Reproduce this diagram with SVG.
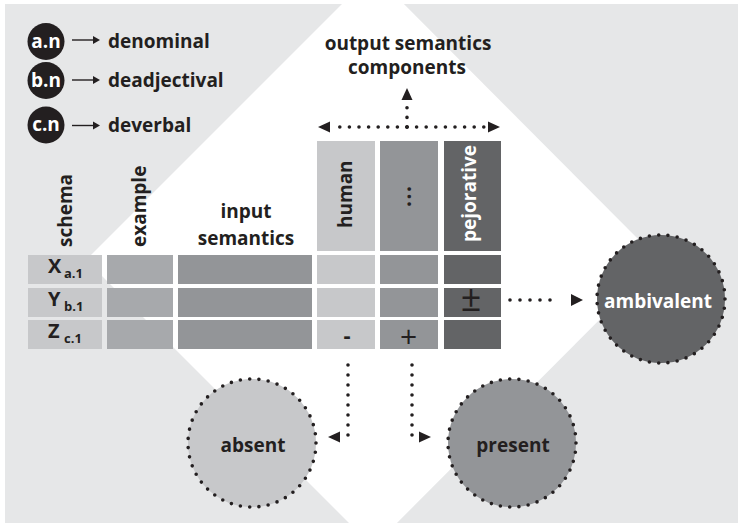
<svg xmlns="http://www.w3.org/2000/svg" width="738" height="526" viewBox="0 0 738 526">
  <defs>
    <style>
      text { font-family: "Open Sans", "Liberation Sans", sans-serif; font-weight: 700; fill: #231f20; font-size: 19px; }
      .mid { text-anchor: middle; }
      .w { fill: #ffffff; }
      .thin { font-weight: 400; }
      .sub { font-size: 13px; }
      .big { font-size: 20px; }
      .g1 { fill: #c7c8ca; }
      .g2 { fill: #a7a9ac; }
      .g3 { fill: #939598; }
      .g4 { fill: #636466; }
      .ink { fill: #231f20; }
      .dots { fill: none; stroke: #231f20; stroke-width: 3.6; stroke-linecap: round; stroke-dasharray: 0 9.6; }
      .ring { stroke: #231f20; stroke-width: 3.6; stroke-linecap: round; stroke-dasharray: 0 1; }
      .leg { fill: none; stroke: #231f20; stroke-width: 1.4; }
    </style>
  </defs>

  <!-- backdrop: grey panel with a white diamond -->
  <rect x="5" y="4" width="733" height="519" fill="#e6e7e8"/>
  <polygon points="373,-27 659,260 373,547 86,260" fill="#ffffff"/>

  <!-- legend -->
  <g id="legend-an">
    <circle cx="46" cy="41.5" r="18.5" class="ink"/>
    <text x="46" y="47.5" class="mid w">a.n</text>
    <path d="M72,40 H94" class="leg"/>
    <polygon points="100,40 93,36 93,44" class="ink"/>
    <text x="108" y="47.5">denominal</text>
  </g>
  <g id="legend-bn">
    <circle cx="46" cy="80.5" r="18.5" class="ink"/>
    <text x="46" y="86.5" class="mid w">b.n</text>
    <path d="M72,80 H94" class="leg"/>
    <polygon points="100,80 93,76 93,84" class="ink"/>
    <text x="108" y="87">deadjectival</text>
  </g>
  <g id="legend-cn">
    <circle cx="46" cy="125" r="18.5" class="ink"/>
    <text x="46" y="131" class="mid w">c.n</text>
    <path d="M72,125.5 H94" class="leg"/>
    <polygon points="100,125.5 93,121.5 93,129.5" class="ink"/>
    <text x="108" y="131.5">deverbal</text>
  </g>

  <!-- heading of the output columns -->
  <g id="output-title">
    <text x="408" y="50" class="mid">output semantics</text>
    <text x="407" y="74" class="mid">components</text>
  </g>

  <!-- column headers -->
  <g id="col-schema">
    <text transform="translate(72,247) rotate(-90)">schema</text>
  </g>
  <g id="col-example">
    <text transform="translate(146,247) rotate(-90)">example</text>
  </g>
  <g id="col-input">
    <text x="246" y="218" class="mid">input</text>
    <text x="246" y="245" class="mid">semantics</text>
  </g>
  <g id="col-human">
    <rect x="317" y="141" width="58" height="110" class="g1"/>
    <text transform="translate(352,228) rotate(-90)">human</text>
  </g>
  <g id="col-more">
    <rect x="380" y="141" width="58" height="110" class="g3"/>
    <text transform="translate(411,207) rotate(-90)" style="font-size:21px;letter-spacing:1.5px">...</text>
  </g>
  <g id="col-pejorative">
    <rect x="444" y="141" width="57" height="110" class="g4"/>
    <text transform="translate(476,242) rotate(-90)" class="w">pejorative</text>
  </g>

  <!-- rows -->
  <g id="row-x">
    <rect x="28" y="255" width="74" height="29" class="g1"/>
    <rect x="107" y="255" width="66" height="29" class="g2"/>
    <rect x="178" y="255" width="134" height="29" class="g3"/>
    <rect x="317" y="255" width="58" height="29" class="g1"/>
    <rect x="380" y="255" width="58" height="29" class="g3"/>
    <rect x="444" y="255" width="57" height="29" class="g4"/>
    <text x="48" y="273" class="big">X</text>
    <text x="64" y="278" class="sub">a.1</text>
  </g>
  <g id="row-y">
    <rect x="28" y="288" width="74" height="29" class="g1"/>
    <rect x="107" y="288" width="66" height="29" class="g2"/>
    <rect x="178" y="288" width="134" height="29" class="g3"/>
    <rect x="317" y="288" width="58" height="29" class="g1"/>
    <rect x="380" y="288" width="58" height="29" class="g3"/>
    <rect x="444" y="288" width="57" height="29" class="g4"/>
    <text x="48" y="306" class="big">Y</text>
    <text x="64" y="311" class="sub">b.1</text>
    <text x="471" y="311" class="mid thin" style="font-size:36px">±</text>
  </g>
  <g id="row-z">
    <rect x="28" y="320" width="74" height="29" class="g1"/>
    <rect x="107" y="320" width="66" height="29" class="g2"/>
    <rect x="178" y="320" width="134" height="29" class="g3"/>
    <rect x="317" y="320" width="58" height="29" class="g1"/>
    <rect x="380" y="320" width="58" height="29" class="g3"/>
    <rect x="444" y="320" width="57" height="29" class="g4"/>
    <text x="48" y="338" class="big">Z</text>
    <text x="64" y="343" class="sub">c.1</text>
    <text x="347" y="343" class="mid" style="font-size:22px">-</text>
    <text x="408.5" y="347" class="mid thin" style="font-size:30px">+</text>
  </g>

  <!-- outcome nodes -->
  <g id="node-ambivalent">
    <circle cx="661" cy="299" r="64" pathLength="43" class="ring g4"/>
    <text x="658" y="308" class="mid w">ambivalent</text>
  </g>
  <g id="node-absent">
    <circle cx="252" cy="443" r="64" pathLength="43" class="ring g1"/>
    <text x="253" y="452" class="mid">absent</text>
  </g>
  <g id="node-present">
    <circle cx="512" cy="443" r="64" pathLength="43" class="ring g3"/>
    <text x="513" y="452" class="mid">present</text>
  </g>

  <!-- dotted connectors -->
  <g id="connectors">
    <path d="M407,127 H333" class="dots"/>
    <path d="M407,127 H485" class="dots"/>
    <path d="M407,127 V103" class="dots"/>
    <polygon points="318,127 330,121.5 330,132.5" class="ink"/>
    <polygon points="500,127 488,121.5 488,132.5" class="ink"/>
    <polygon points="407,88 401.5,100 412.5,100" class="ink"/>

    <path d="M510,300 H560" class="dots" style="stroke-dasharray:0 10"/>
    <polygon points="583,300 571,294 571,306" class="ink"/>

    <path d="M348,365 V436" class="dots" style="stroke-dasharray:0 10"/>
    <polygon points="328,437 340,431.5 340,442.5" class="ink"/>

    <path d="M412,365 V436" class="dots" style="stroke-dasharray:0 10"/>
    <polygon points="431,437 419,431.5 419,442.5" class="ink"/>
  </g>
</svg>
